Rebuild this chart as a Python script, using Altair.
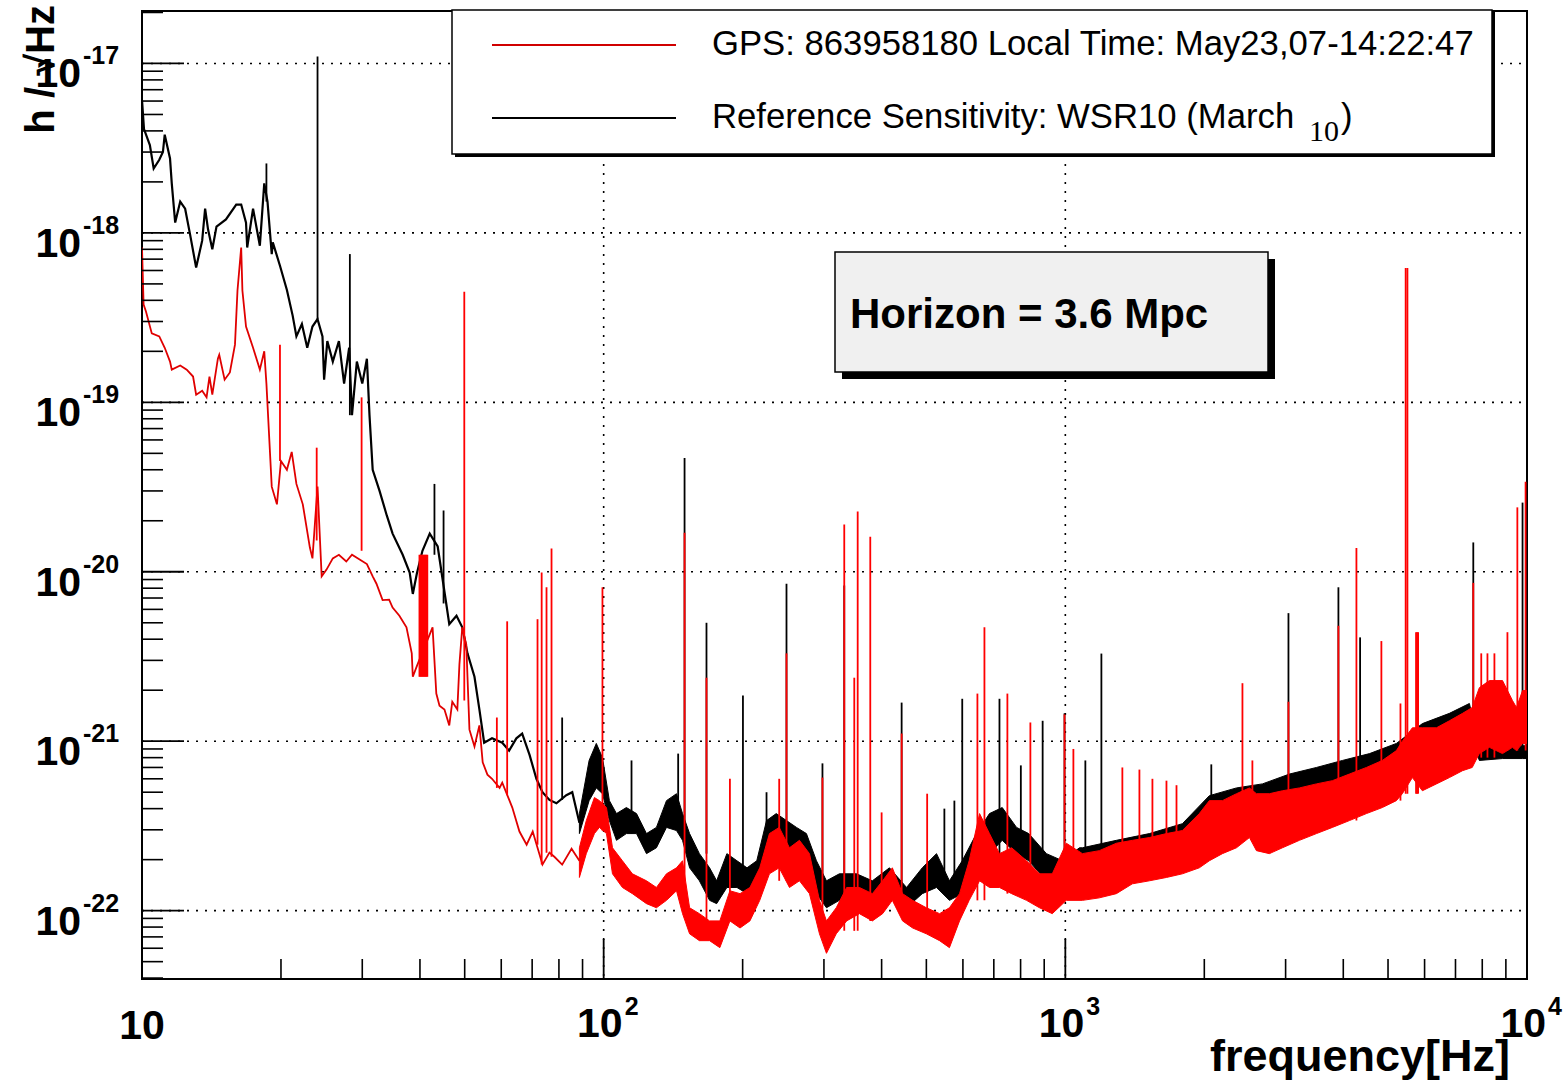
import altair as alt
import pandas as pd

# ---------------- values ----------------
# Reference sensitivity (black), low-frequency trace
black_trace_f = [10.0, 10.1, 10.4, 10.6, 10.9, 11.1, 11.2, 11.5, 11.6, 11.8, 12.1, 12.4, 12.7, 13.1, 13.5,
                 13.7, 13.9, 14.2, 14.5, 15.2, 16.0, 16.4, 16.8, 16.9, 17.4, 18.0, 18.4, 18.7, 19.1, 19.2,
                 19.9, 20.6, 21.2, 21.6, 22.2, 22.8, 23.4, 24.0, 24.6, 24.8, 25.2, 25.9, 26.7, 27.4, 28.1,
                 28.5, 29.2, 30.0, 30.7, 31.1, 31.6, 32.7, 33.9, 34.9, 36.7, 38.0, 38.6, 39.4, 40.5, 42.0,
                 43.7, 45.6, 46.3, 48.0, 49.4, 50.7, 52.5, 53.8, 55.1, 57.3, 60.3, 62.4, 64.7, 66.6, 69.1,
                 71.5, 73.7, 76.3, 79.0, 83.0, 85.5, 88.6]
black_trace_h = [6.1e-18, 4.1e-18, 3.3e-18, 2.4e-18, 2.7e-18, 3.0e-18, 3.8e-18, 2.75e-18, 1.96e-18, 1.15e-18,
                 1.53e-18, 1.39e-18, 9.9e-19, 6.25e-19, 9.0e-19, 1.39e-18, 1.05e-18, 8.0e-19, 1.09e-18, 1.2e-18,
                 1.47e-18, 1.47e-18, 1.15e-18, 8.2e-19, 1.39e-18, 8.4e-19, 1.96e-18, 1.53e-18, 7.5e-19, 8.8e-19,
                 6.4e-19, 4.6e-19, 3.25e-19, 2.45e-19, 2.9e-19, 2.1e-19, 2.8e-19, 3.1e-19, 2.45e-19, 1.36e-19,
                 2.3e-19, 1.74e-19, 2.3e-19, 1.29e-19, 2.1e-19, 8.4e-20, 1.74e-19, 1.29e-19, 1.81e-19, 8.4e-20,
                 4.0e-20, 3.0e-20, 2.15e-20, 1.68e-20, 1.26e-20, 9.9e-21, 7.4e-21, 9.8e-21, 1.33e-20, 1.68e-20,
                 1.41e-20, 6.5e-21, 4.9e-21, 5.5e-21, 4.7e-21, 3.3e-21, 2.4e-21, 1.54e-21, 9.8e-22, 1.04e-21,
                 9.8e-22, 8.8e-22, 1.04e-21, 1.11e-21, 8.3e-22, 6.0e-22, 5.0e-22, 4.5e-22, 4.3e-22, 4.8e-22,
                 5.0e-22, 3.3e-22]

# Reference sensitivity (black), noisy band above ~90 Hz: upper / lower envelope
black_band_f = [88.6, 93.0, 96.4, 99.4, 102.9, 106.6, 112.0, 117.8, 123.8, 130.1, 136.8, 143.8, 148.2, 153.5,
                161.2, 169.6, 175.7, 184.9, 194.4, 204.4, 214.6, 225.3, 236.5, 248.9, 261.6, 274.9, 289.0,
                303.8, 324, 353, 382, 416, 453, 490, 526, 561, 598, 642, 685, 730, 784, 833, 910, 986, 1073,
                1089, 1290, 1521, 1793, 2051, 2348, 2673, 3058, 3499, 3984, 4560, 5213, 5934, 6790, 7503,
                7885, 8850, 9780, 10000]
black_band_hi = [3.74e-22, 7.7e-22, 9.7e-22, 8.0e-22, 4.46e-22, 3.74e-22, 4.06e-22, 3.74e-22, 2.85e-22, 3.1e-22,
                 4.46e-22, 4.9e-22, 3.74e-22, 2.85e-22, 2.17e-22, 1.79e-22, 1.5e-22, 2.17e-22, 1.97e-22,
                 1.79e-22, 1.97e-22, 3.4e-22, 3.74e-22, 3.4e-22, 3.1e-22, 2.85e-22, 1.97e-22, 1.5e-22,
                 1.65e-22, 1.65e-22, 1.5e-22, 1.79e-22, 1.37e-22, 1.79e-22, 2.17e-22, 1.5e-22, 1.97e-22,
                 2.85e-22, 3.74e-22, 4.06e-22, 3.1e-22, 2.85e-22, 2.17e-22, 1.97e-22, 2.35e-22, 2.35e-22,
                 2.6e-22, 2.85e-22, 3.26e-22, 4.77e-22, 5.3e-22, 5.6e-22, 6.4e-22, 7.0e-22, 7.7e-22, 8.45e-22,
                 9.7e-22, 1.27e-21, 1.46e-21, 1.67e-21, 9.2e-22, 9.4e-22, 9.4e-22, 9.4e-22]
black_band_lo = [2.85e-22, 4.46e-22, 5.3e-22, 4.9e-22, 3.4e-22, 2.6e-22, 2.85e-22, 2.85e-22, 2.17e-22, 2.35e-22,
                 3.1e-22, 2.97e-22, 2.6e-22, 1.79e-22, 1.5e-22, 1.15e-22, 1.10e-22, 1.37e-22, 1.37e-22,
                 1.26e-22, 1.37e-22, 1.97e-22, 2.17e-22, 1.97e-22, 1.79e-22, 1.79e-22, 1.26e-22, 1.04e-22,
                 1.15e-22, 1.19e-22, 1.15e-22, 1.26e-22, 1.04e-22, 1.26e-22, 1.37e-22, 1.15e-22, 1.26e-22,
                 1.79e-22, 2.17e-22, 2.6e-22, 2.17e-22, 1.97e-22, 1.5e-22, 1.37e-22, 1.5e-22, 1.57e-22,
                 1.72e-22, 1.89e-22, 2.17e-22, 3.18e-22, 3.54e-22, 3.74e-22, 4.28e-22, 4.65e-22, 5.1e-22,
                 5.6e-22, 6.4e-22, 8.45e-22, 9.7e-22, 1.11e-21, 7.7e-22, 7.9e-22, 7.9e-22, 7.9e-22]

# Reference sensitivity (black), narrow lines: frequency, top, foot
black_spike_f = [18.6, 24.0, 28.2, 43.0, 45.0, 81.3, 114.9, 145, 149.7, 167.0, 200.3, 225.3, 248.9, 297.8,
                 332, 442, 547, 575, 598, 720, 801, 893, 996, 1105, 1197, 2071, 3043, 3904, 4350, 7650, 9780]
black_spike_top = [2.57e-18, 1.1e-17, 7.5e-19, 3.3e-20, 2.3e-20, 1.38e-21, 7.7e-22, 8.45e-22, 4.7e-20, 5.0e-21,
                   1.86e-21, 5.0e-22, 8.5e-21, 7.4e-22, 8.3e-21, 1.69e-21, 4.0e-22, 4.46e-22, 1.78e-21,
                   1.78e-21, 7.2e-22, 1.32e-21, 1.46e-21, 7.7e-22, 3.29e-21, 7.3e-22, 5.7e-21, 8.1e-21,
                   4.1e-21, 1.49e-20, 2.56e-20]
black_spike_base = [1.53e-18, 3.1e-19, 8.4e-20, 1.26e-20, 6.5e-21, 4.5e-22, 2.85e-22, 3.0e-22, 2.97e-22,
                    2.17e-22, 1.65e-22, 1.65e-22, 1.97e-22, 1.26e-22, 1.2e-22, 1.26e-22, 1.3e-22, 1.3e-22,
                    1.5e-22, 1.97e-22, 2.2e-22, 1.8e-22, 1.6e-22, 1.8e-22, 1.97e-22, 3.4e-22, 4.0e-22,
                    4.5e-22, 5.0e-22, 1.1e-21, 8.0e-22]

# Current spectrum (red), low-frequency trace
red_trace_f = [10.0, 10.08, 10.2, 10.5, 10.9, 11.2, 11.5, 11.6, 12.1, 12.5, 12.9, 13.1, 13.5, 13.8, 14.0,
               14.2, 14.6, 14.7, 15.1, 15.5, 15.9, 16.1, 16.4, 16.5, 16.8, 17.4, 18.0, 18.4, 18.6, 18.7,
               19.1, 19.6, 20.0, 20.6, 21.1, 21.6, 22.3, 23.1, 23.4, 24.0, 24.5, 25.1, 25.9, 26.7, 27.7,
               28.5, 30.7, 31.6, 32.2, 33.2, 34.3, 34.9, 36.1, 37.4, 38.4, 38.6, 39.5, 42.6, 43.4, 44.1,
               45.2, 46.3, 47.0, 48.2, 48.7, 49.4, 50.4, 51.2, 52.5, 53.8, 54.7, 56.0, 57.3, 59.5, 60.3,
               62.4, 63.4, 65.7, 68.1, 70.2, 73.7, 76.3, 78.2, 81.3, 85.2, 88.6]
red_trace_h = [8.2e-19, 3.78e-19, 3.44e-19, 2.55e-19, 2.45e-19, 2.1e-19, 1.74e-19, 1.56e-19, 1.65e-19, 1.56e-19,
               1.42e-19, 1.11e-19, 1.17e-19, 1.07e-19, 1.42e-19, 1.11e-19, 1.81e-19, 1.91e-19, 1.36e-19, 1.5e-19,
               2.19e-19, 4.57e-19, 8.2e-19, 4.57e-19, 2.8e-19, 2.1e-19, 1.56e-19, 2.0e-19, 1.29e-19, 9.7e-20,
               3.18e-20, 2.5e-20, 4.5e-20, 4.0e-20, 5.1e-20, 3.3e-20, 2.5e-20, 1.39e-20, 1.2e-20, 3.18e-20,
               9.4e-21, 1.03e-20, 1.2e-20, 1.26e-20, 1.15e-20, 1.26e-20, 1.11e-20, 9.4e-21, 8.5e-21, 6.8e-21,
               6.85e-21, 6.15e-21, 5.5e-21, 4.7e-21, 3.3e-21, 2.4e-21, 2.83e-21, 4.7e-21, 1.91e-21, 1.62e-21,
               1.54e-21, 1.24e-21, 1.71e-21, 1.54e-21, 2.83e-21, 4.7e-21, 3.72e-21, 1.17e-21, 9.3e-22, 1.24e-21,
               7.5e-22, 6.35e-22, 6.0e-22, 5.3e-22, 5.7e-22, 4.52e-22, 4.06e-22, 2.93e-22, 2.45e-22, 2.93e-22,
               1.87e-22, 2.2e-22, 2.08e-22, 1.87e-22, 2.32e-22, 1.97e-22]

# Current spectrum (red), noisy band above ~90 Hz: upper / lower envelope
red_band_f = [88.6, 91.7, 95.5, 97.9, 101.4, 104.5, 109.8, 115.4, 123.8, 130.1, 136.8, 143.8, 148.2, 153.5,
              161.2, 169.6, 178.5, 187.7, 197.4, 207.4, 217.8, 228.6, 240.0, 252.6, 265.5, 279.1, 293.4,
              303.8, 319, 336, 358, 382, 402, 422, 444, 467, 500, 534, 561, 590, 619, 652, 685, 720, 765,
              824, 879, 937, 1005, 1089, 1185, 1290, 1397, 1521, 1656, 1793, 1951, 2051, 2189, 2348, 2505,
              2594, 2767, 2953, 3214, 3499, 3789, 4124, 4489, 4860, 5213, 5370, 5646, 5934, 6366, 6790,
              7250, 7610, 7885, 8290, 8850, 9300, 9490, 9780, 10000]
red_band_hi = [2.35e-22, 3.4e-22, 4.65e-22, 4.46e-22, 4.06e-22, 2.35e-22, 1.97e-22, 1.65e-22, 1.5e-22, 1.37e-22,
               1.65e-22, 1.79e-22, 1.97e-22, 1.04e-22, 9.6e-23, 8.7e-23, 8.7e-23, 1.31e-22, 1.26e-22, 1.37e-22,
               1.79e-22, 2.85e-22, 3.1e-22, 2.35e-22, 2.6e-22, 2.17e-22, 1.15e-22, 8.7e-23, 1.04e-22, 1.37e-22,
               1.37e-22, 1.26e-22, 1.5e-22, 1.79e-22, 1.26e-22, 1.15e-22, 1.04e-22, 9.6e-23, 1.04e-22,
               1.26e-22, 1.97e-22, 3.74e-22, 2.85e-22, 2.17e-22, 2.35e-22, 1.97e-22, 1.65e-22, 1.65e-22,
               2.5e-22, 2.17e-22, 2.26e-22, 2.5e-22, 2.6e-22, 2.7e-22, 2.85e-22, 2.97e-22, 3.74e-22, 4.46e-22,
               4.46e-22, 4.9e-22, 5.3e-22, 4.9e-22, 4.9e-22, 5.1e-22, 5.3e-22, 5.6e-22, 5.85e-22, 6.4e-22,
               7.0e-22, 7.7e-22, 8.8e-22, 1.0e-21, 1.2e-21, 1.2e-21, 1.2e-21, 1.32e-21, 1.46e-21, 1.58e-21,
               2.07e-21, 2.28e-21, 2.28e-21, 1.74e-21, 1.58e-21, 1.99e-21, 1.99e-21]
red_band_lo = [1.57e-22, 2.17e-22, 2.85e-22, 3.1e-22, 2.85e-22, 1.65e-22, 1.37e-22, 1.26e-22, 1.10e-22, 1.04e-22,
               1.15e-22, 1.31e-22, 9.6e-23, 7.3e-23, 6.65e-23, 6.65e-23, 6.05e-23, 8.7e-23, 7.9e-23, 8.7e-23,
               1.15e-22, 1.65e-22, 1.79e-22, 1.37e-22, 1.5e-22, 1.26e-22, 7.3e-23, 5.6e-23, 7.3e-23, 8.7e-23,
               9.6e-23, 8.7e-23, 9.6e-23, 1.15e-22, 8.7e-23, 7.9e-23, 7.3e-23, 6.65e-23, 6.05e-23, 8.7e-23,
               1.15e-22, 1.5e-22, 1.37e-22, 1.37e-22, 1.26e-22, 1.15e-22, 1.04e-22, 9.6e-23, 1.15e-22,
               1.15e-22, 1.19e-22, 1.26e-22, 1.44e-22, 1.5e-22, 1.57e-22, 1.65e-22, 1.79e-22, 1.97e-22,
               2.17e-22, 2.35e-22, 2.7e-22, 2.26e-22, 2.17e-22, 2.35e-22, 2.6e-22, 2.85e-22, 3.1e-22, 3.4e-22,
               3.74e-22, 4.06e-22, 4.46e-22, 4.9e-22, 6.1e-22, 5.1e-22, 5.6e-22, 6.1e-22, 6.7e-22, 7.0e-22,
               8.45e-22, 9.2e-22, 8.45e-22, 9.2e-22, 8.8e-22, 9.7e-22, 9.7e-22]

# Current spectrum (red), narrow lines: frequency, top, foot
red_spike_f = [19.9, 23.9, 29.9, 39.9, 40.1, 40.3, 40.5, 40.7, 40.9, 41.1, 41.3, 41.5, 49.9, 58.7, 61.8, 71.9,
               73.4, 75.2, 77.1, 99.4, 149.7, 167.0, 187.7, 240.0, 248.9, 297.8, 332, 349, 355, 378, 400, 442,
               502, 645, 668, 749, 840, 996, 1041, 1329, 1447, 1544, 1656, 1741, 2419, 2542, 3043, 3904,
               4271, 4837, 5320, 5460, 5508, 5750, 5780, 5810, 7650, 7960, 8210, 8500, 9070, 9530, 9930]
red_spike_top = [2.19e-19, 5.4e-20, 1.07e-19, 1.26e-20, 1.26e-20, 1.26e-20, 1.26e-20, 1.26e-20, 1.26e-20,
                 1.26e-20, 1.26e-20, 1.26e-20, 4.5e-19, 1.38e-21, 5.1e-21, 5.25e-21, 9.9e-21, 8.1e-21, 1.37e-20,
                 8.1e-21, 1.7e-20, 2.37e-21, 6.0e-22, 6.0e-22, 3.3e-21, 6.1e-22, 1.9e-20, 2.37e-21, 2.27e-20,
                 1.61e-20, 3.8e-22, 1.11e-21, 4.9e-22, 1.91e-21, 4.7e-21, 1.91e-21, 1.29e-21, 1.44e-21, 9.0e-22,
                 7.0e-22, 6.8e-22, 6.0e-22, 5.85e-22, 5.5e-22, 2.2e-21, 7.7e-22, 1.71e-21, 4.8e-21, 1.38e-20,
                 3.9e-21, 1.67e-21, 6.2e-19, 6.2e-19, 4.4e-21, 4.4e-21, 4.4e-21, 8.6e-21, 3.3e-21, 3.3e-21,
                 3.3e-21, 4.4e-21, 2.4e-20, 3.4e-20]
red_spike_base = [4.5e-20, 1.53e-20, 1.33e-20, 2.4e-21, 2.4e-21, 2.4e-21, 2.4e-21, 2.4e-21, 2.4e-21, 2.4e-21,
                  2.4e-21, 2.4e-21, 1.74e-21, 5.3e-22, 4.8e-22, 2.45e-22, 1.87e-22, 2.2e-22, 2.08e-22, 2.97e-22,
                  1.5e-22, 7.6e-23, 8.7e-23, 1.5e-22, 1.5e-22, 8.7e-23, 7.6e-23, 7.6e-23, 7.6e-23, 8.7e-23,
                  9.6e-23, 9.6e-23, 8.7e-23, 1.15e-22, 1.15e-22, 1.26e-22, 1.15e-22, 1.15e-22, 1.26e-22,
                  1.5e-22, 1.5e-22, 1.65e-22, 1.65e-22, 1.65e-22, 2.6e-22, 2.6e-22, 2.6e-22, 3.4e-22, 3.4e-22,
                  4.46e-22, 4.46e-22, 4.9e-22, 4.9e-22, 4.9e-22, 4.9e-22, 4.9e-22, 7.7e-22, 8.0e-22, 8.0e-22,
                  8.0e-22, 8.8e-22, 8.8e-22, 8.8e-22]

# Axes, ticks and texts
x_decades = [10, 100, 1000, 10000]
x_exponents = ["", "2", "3", "4"]
y_decades = [1e-17, 1e-18, 1e-19, 1e-20, 1e-21, 1e-22]
y_exponents = ["-17", "-18", "-19", "-20", "-21", "-22"]
tick_mantissas = [2, 3, 4, 5, 6, 7, 8, 9]
x_domain = [10, 10000]
y_domain = [3.95e-23, 2.04e-17]
legend_texts = ["GPS: 863958180 Local Time: May23,07-14:22:47", "Reference Sensitivity: WSR10 (March "]
horizon_text = "Horizon = 3.6 Mpc"
x_title = "frequency[Hz]"
y_title = "h / \u221aHz"

# ---------------- chart ----------------
W, H = 1385, 968
FONT = "Liberation Sans"
RED = "#ff0000"

xs = alt.Scale(type="log", domain=x_domain, nice=False)
ys = alt.Scale(type="log", domain=y_domain, nice=False)


def xe(field):
    return alt.X(field + ":Q", scale=xs, axis=None)


def ye(field):
    return alt.Y(field + ":Q", scale=ys, axis=None)


one = pd.DataFrame({"a": [0]})

x_minor = [m * 10 ** k for k in (1, 2, 3) for m in tick_mantissas]
y_minor = [m * 10.0 ** k for k in range(-23, -16) for m in tick_mantissas
           if y_domain[0] <= m * 10.0 ** k <= y_domain[1]]

layers = []

# grid
layers.append(alt.Chart(pd.DataFrame({"f": x_decades[1:3]})).mark_rule(
    color="black", strokeDash=[2, 7], strokeWidth=1.6).encode(x=xe("f"), y=alt.value(0), y2=alt.value(H)))
layers.append(alt.Chart(pd.DataFrame({"v": y_decades})).mark_rule(
    color="black", strokeDash=[2, 7], strokeWidth=1.6).encode(y=ye("v"), x=alt.value(0), x2=alt.value(W)))

# black series
layers.append(alt.Chart(pd.DataFrame({"f": black_band_f, "hi": black_band_hi, "lo": black_band_lo}))
              .mark_area(color="black", stroke="black", strokeWidth=1, clip=True)
              .encode(x=xe("f"), y=ye("hi"), y2=alt.Y2("lo:Q")))
layers.append(alt.Chart(pd.DataFrame({"f": black_trace_f, "h": black_trace_h}))
              .mark_line(color="black", strokeWidth=2.2, clip=True)
              .encode(x=xe("f"), y=ye("h")))
layers.append(alt.Chart(pd.DataFrame({"f": black_spike_f, "top": black_spike_top, "base": black_spike_base}))
              .mark_rule(color="black", strokeWidth=1.8, clip=True)
              .encode(x=xe("f"), y=ye("top"), y2=alt.Y2("base:Q")))

# red series
layers.append(alt.Chart(pd.DataFrame({"f": red_band_f, "hi": red_band_hi, "lo": red_band_lo}))
              .mark_area(color=RED, stroke=RED, strokeWidth=1, clip=True)
              .encode(x=xe("f"), y=ye("hi"), y2=alt.Y2("lo:Q")))
layers.append(alt.Chart(pd.DataFrame({"f": red_trace_f, "h": red_trace_h}))
              .mark_line(color="#e00000", strokeWidth=1.8, clip=True)
              .encode(x=xe("f"), y=ye("h")))
layers.append(alt.Chart(pd.DataFrame({"f": red_spike_f, "top": red_spike_top, "base": red_spike_base}))
              .mark_rule(color=RED, strokeWidth=1.8, clip=True)
              .encode(x=xe("f"), y=ye("top"), y2=alt.Y2("base:Q")))

# ticks (drawn inward, ROOT style)
layers.append(alt.Chart(pd.DataFrame({"v": y_minor})).mark_rule(color="black", strokeWidth=1.6)
              .encode(y=ye("v"), x=alt.value(0), x2=alt.value(21)))
layers.append(alt.Chart(pd.DataFrame({"v": y_decades})).mark_rule(color="black", strokeWidth=1.8)
              .encode(y=ye("v"), x=alt.value(0), x2=alt.value(42)))
layers.append(alt.Chart(pd.DataFrame({"f": x_minor})).mark_rule(color="black", strokeWidth=1.6)
              .encode(x=xe("f"), y=alt.value(H), y2=alt.value(H - 20)))
layers.append(alt.Chart(pd.DataFrame({"f": x_decades})).mark_rule(color="black", strokeWidth=1.8)
              .encode(x=xe("f"), y=alt.value(H), y2=alt.value(H - 40)))

# y tick labels: "10" with exponent
ylab = pd.DataFrame({"v": y_decades, "e": y_exponents, "b": ["10"] * len(y_decades)})
layers.append(alt.Chart(ylab).mark_text(font=FONT, fontWeight="bold", fontSize=41, align="right",
                                        baseline="middle", dy=12, color="black")
              .encode(y=ye("v"), x=alt.value(-61), text="b:N"))
layers.append(alt.Chart(ylab).mark_text(font=FONT, fontWeight="bold", fontSize=25, align="left",
                                        baseline="middle", dy=-7, color="black")
              .encode(y=ye("v"), x=alt.value(-59), text="e:N"))

# x tick labels
xlab = pd.DataFrame({"f": x_decades, "e": x_exponents, "b": ["10"] * len(x_decades)})
layers.append(alt.Chart(xlab.iloc[:1]).mark_text(font=FONT, fontWeight="bold", fontSize=41, align="center",
                                                 baseline="middle", color="black")
              .encode(x=xe("f"), y=alt.value(1016), text="b:N"))
layers.append(alt.Chart(xlab.iloc[1:]).mark_text(font=FONT, fontWeight="bold", fontSize=41, align="right",
                                                 baseline="middle", dx=19, color="black")
              .encode(x=xe("f"), y=alt.value(1014), text="b:N"))
layers.append(alt.Chart(xlab.iloc[1:]).mark_text(font=FONT, fontWeight="bold", fontSize=25, align="left",
                                                 baseline="middle", dx=21, color="black")
              .encode(x=xe("f"), y=alt.value(996), text="e:N"))

# axis titles
layers.append(alt.Chart(one).mark_text(font=FONT, fontWeight="bold", fontSize=45, align="right",
                                       baseline="middle", color="black", text=x_title)
              .encode(x=alt.value(1368), y=alt.value(1046)))
layers.append(alt.Chart(one).mark_text(font=FONT, fontWeight="bold", fontSize=40, align="right",
                                       baseline="middle", angle=270, color="black", text=y_title)
              .encode(x=alt.value(-100), y=alt.value(-6)))

# legend box
layers.append(alt.Chart(one).mark_rect(color="black")
              .encode(x=alt.value(313), x2=alt.value(1353), y=alt.value(1), y2=alt.value(146)))
layers.append(alt.Chart(one).mark_rect(fill="white", stroke="black", strokeWidth=1.5)
              .encode(x=alt.value(310), x2=alt.value(1350), y=alt.value(-1), y2=alt.value(143)))
layers.append(alt.Chart(one).mark_rule(color="#d00000", strokeWidth=2)
              .encode(x=alt.value(350), x2=alt.value(534), y=alt.value(34)))
layers.append(alt.Chart(one).mark_rule(color="black", strokeWidth=2)
              .encode(x=alt.value(350), x2=alt.value(534), y=alt.value(107)))
layers.append(alt.Chart(one).mark_text(font=FONT, fontSize=34.7, align="left", baseline="middle",
                                       color="black", text=legend_texts[0])
              .encode(x=alt.value(570), y=alt.value(34)))
layers.append(alt.Chart(one).mark_text(font=FONT, fontSize=34.7, align="left", baseline="middle",
                                       color="black", text=legend_texts[1])
              .encode(x=alt.value(570), y=alt.value(107)))
layers.append(alt.Chart(one).mark_text(font="Liberation Serif", fontSize=30, align="left",
                                       baseline="alphabetic", color="black", text="10")
              .encode(x=alt.value(1167), y=alt.value(130)))
layers.append(alt.Chart(one).mark_text(font=FONT, fontSize=34.7, align="left", baseline="middle",
                                       color="black", text=")")
              .encode(x=alt.value(1199), y=alt.value(107)))

# horizon box
layers.append(alt.Chart(one).mark_rect(color="black")
              .encode(x=alt.value(700), x2=alt.value(1133), y=alt.value(248), y2=alt.value(368)))
layers.append(alt.Chart(one).mark_rect(fill="#f0f0f0", stroke="black", strokeWidth=1.5)
              .encode(x=alt.value(693), x2=alt.value(1126), y=alt.value(241), y2=alt.value(361)))
layers.append(alt.Chart(one).mark_text(font=FONT, fontWeight="bold", fontSize=42, align="left",
                                       baseline="middle", color="black", text=horizon_text)
              .encode(x=alt.value(708), y=alt.value(304)))

chart = alt.layer(*layers).properties(
    width=W, height=H,
    autosize=alt.AutoSizeParams(type="none"),
    padding={"left": 142, "top": 11, "right": 37, "bottom": 102},
    background="white",
).configure_view(stroke="black", strokeWidth=2)

chart.save("out.html", embed_options={"renderer": "svg", "actions": False})
